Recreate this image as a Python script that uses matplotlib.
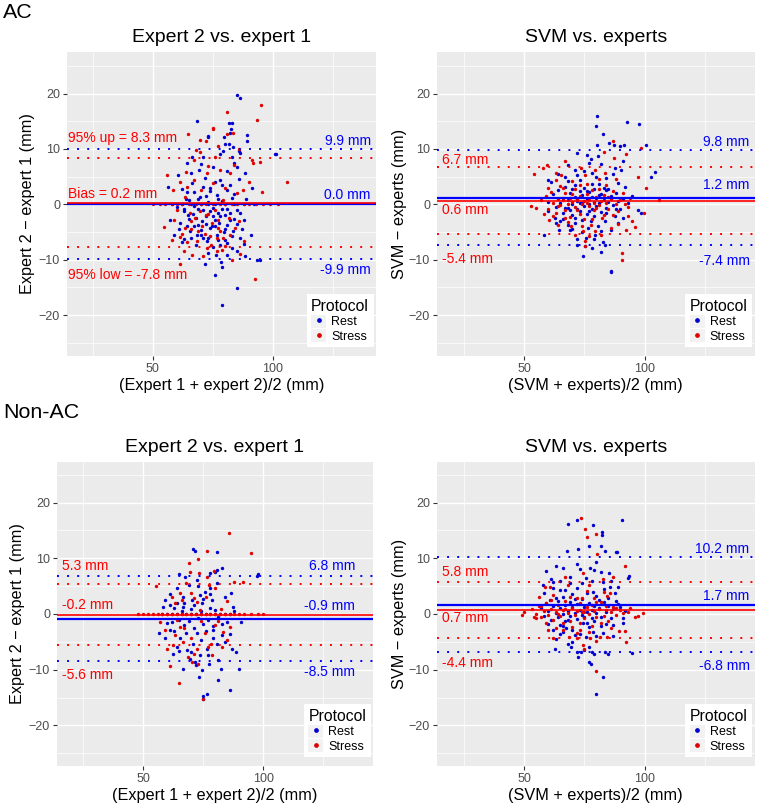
import numpy as np
import matplotlib
matplotlib.use("Agg")
import matplotlib.pyplot as plt
from matplotlib.lines import Line2D
from matplotlib.patches import Patch
from matplotlib.ticker import MultipleLocator

plt.rcParams['font.family'] = ['Liberation Sans', 'DejaVu Sans']

# ---- data (mm) ----
# AC, expert 2 vs expert 1
ac_exp_rest = [(85.1,19.8),(86.4,19.2),(68.6,15.1),(82.9,14.7),(81.9,14.6),(82.5,13.6),(82.3,12.8),(89.1,12.5),
    (73.0,12.1),(79.7,12.1),(89.1,11.4),(80.0,10.9),(81.9,10.9),(85.8,9.7),(101.0,9.0),(101.4,9.1),
    (56.5,3.2),(60.7,5.3),(64.2,7.4),(66.2,3.8),(69.4,6.2),(71.8,4.7),(75.3,6.8),(78.1,4.4),(79.2,9.7),
    (82.9,8.6),(83.6,10.4),(85.3,6.8),(88.5,5.6),(91.2,2.9),(82.2,3.5),(73.9,2.9),(69.7,1.4),(76.7,1.7),
    (86.4,9.2),(66.2,8.6),(73.2,12.3),(80.8,2.6),(64.2,2.3),(70.9,8.6),
    (57.2,-2.8),(59.0,-5.5),(62.9,-0.9),(64.8,-1.9),(66.9,-1.7),(69.0,-3.7),(71.1,-6.1),(71.9,-10.7),
    (75.8,-12.8),(78.9,-11.3),(78.5,-10.4),(85.3,-15.1),(78.9,-18.1),(91.1,-5.6),(87.9,-2.8),(86.4,-1.6),
    (82.2,-1.6),(80.8,-3.7),(76.4,-9.2),(80.8,-9.1),(88.6,-9.4),(93.3,-10.0),(94.7,-10.0),(78.0,-7.3),
    (72.5,-6.7),(65.5,-4.9),(61.4,-3.4),(73.9,-4.3),(76.6,-5.5),(80.1,-6.4),(82.9,-7.9),(85.0,-8.5),
    (70.4,-3.0),(75.3,-2.2),(78.7,-0.9),(83.6,-4.9),(86.4,-6.1),(68.3,-5.5),(64.1,-3.9),(73.2,-8.8),
    (60.0,-0.5),(63.0,-1.2),(65.0,0.8),(67.0,-0.3),(69.0,1.0),(71.0,-1.0),(73.0,0.4),(75.0,-0.6),
    (77.0,-1.5),(79.0,0.6),(81.0,-0.8),(83.0,1.2),(85.0,-1.1),(68.0,-2.5),(72.0,-2.2),(76.0,-2.8),
    (80.0,-2.0),(74.5,-4.0),(77.5,-3.4),(70.0,-4.6),(66.0,-6.0),(79.5,-5.0),(84.0,-2.6),(62.0,-6.8),
    (61,-4.5),(63,-6.2),(64,0.9),(65,-2.6),(67,-4.0),(67,2.2),(68,-7.4),(69,-0.8),(70,-5.6),(71,3.1),
    (72,-3.6),(72,1.5),(73,-6.0),(74,-1.3),(74,2.4),(75,-7.8),(76,-3.9),(77,0.9),(77,-6.5),(78,-2.2),
    (79,3.4),(80,-4.4),(81,-7.0),(82,-2.9),(83,-5.8),(84,1.8),(85,-3.5),(86,4.6),(87,-4.5),(88,-7.1),
    (89,1.0),(62,2.8),(66,5.6),(70,7.3),(76,4.0),(81,6.0),(84,7.5),(78,9.0),
    (58.0,0.0),(62.0,0.0),(66.0,0.0),(70.0,0.0),(73.0,0.0),(76.0,0.0),(80.0,0.0),(84.0,0.0),(88.0,0.0),(92.0,0.0)]
ac_exp_stress = [(95.1,18.0),(81.1,16.6),(93.6,15.2),(75.3,13.6),(64.6,12.7),(72.1,11.4),(81.1,12.7),(86.1,10.0),
    (105.8,4.0),(55.8,5.3),(61.4,4.1),(63.5,1.4),(67.0,8.0),(69.7,9.5),(72.5,5.6),(76.0,8.6),(78.1,6.2),
    (82.2,5.6),(85.0,2.0),(87.8,2.6),(95.4,2.3),(94.7,7.6),(69.7,11.6),(75.3,13.7),(58.6,2.6),(64.2,3.2),
    (79.4,0.8),(91.9,7.4),(83.6,12.8),(91.2,8.0),
    (54.8,-4.1),(59.0,-2.8),(61.4,-5.9),(62.3,-5.3),(66.5,-9.1),(61.5,-10.7),(92.6,-13.5),(82.9,-10.0),
    (86.4,-8.9),(72.5,-7.9),(76.6,-6.1),(70.4,-3.9),(74.6,-3.4),(78.0,-4.9),(67.6,-2.5),(65.5,-1.6),
    (69.7,-1.3),(81.9,-2.5),(84.3,-4.3),(80.1,-7.6),(74.3,-7.3),(68.3,-6.7),(64.1,-6.9),(76.6,-8.5),
    (63.5,-4.3),(71.8,-5.3),(79.4,-6.1),(73.0,-1.8),(77.0,-2.9),(66.0,-4.4),
    (58,-6.5),(60,-1.0),(63,-8.4),(64,5.8),(66,-3.0),(67,4.4),(69,-4.8),(70,2.6),(71,-9.4),(72,-2.0),
    (73,7.0),(74,-5.8),(75,3.9),(76,-1.0),(77,-4.2),(79,-8.2),(80,3.0),(82,-5.6),(84,7.1),(86,-3.1),
    (88,-6.6),(90,4.0),(68,9.8),(77,10.5),
    (50.0,0.0),(53.0,0.0),(55.0,0.0),(58.0,0.0),(60.0,0.0),(62.0,0.0),(65.0,0.0),(68.0,0.0),(70.0,0.0),
    (72.0,0.0),(75.0,0.0),(78.0,0.0),(80.0,0.0),(83.0,0.0),(85.0,0.0),(88.0,0.0),(90.0,0.0),(93.0,0.0),
    (96.0,0.0),(99.0,0.0),(102.0,0.0)]

# AC, SVM vs experts
ac_svm_rest = [(80.3,15.9),(79.7,14.1),(92.8,14.9),(97.6,14.5),(82.8,12.7),(80.3,10.7),(85.4,11.0),(87.2,10.7),
    (89.8,10.6),(91.4,10.7),(100.7,10.7),(71.8,9.3),(91.2,7.9),(102.9,4.9),(104.2,5.9),(76.8,7.5),(77.9,8.1),
    (80.7,8.7),(68.2,7.1),(71.0,6.2),(87.6,6.5),(90.4,6.2),(59.8,4.3),
    (58.3,-5.6),(64.4,-4.7),(71.7,-7.3),(75.1,-7.6),(74.4,-9.4),(82.8,-6.8),(81.8,-8.7),(86.2,-12.0),
    (86.2,-12.3),(83.7,-7.3),(79.3,-5.5),(76.5,-4.3),(89.0,-3.4),(97.4,-1.0),(98.7,-1.6),(87.6,-2.2),
    (68.2,-3.7),(62.6,-2.5),(59.8,-1.3),(71.0,-2.5),(77.9,-3.1),(80.7,-3.9),(83.5,-3.1),(75.8,-6.1),
    (60,0.5),(62,1.8),(63,-0.5),(64,2.5),(65,0.2),(66,1.2),(66,-1.5),(67,3.1),(68,0.8),(68,-0.6),(69,2.0),
    (70,0.1),(70,-2.0),(71,1.4),(71,3.5),(72,-0.8),(72,0.6),(73,2.4),(73,-1.2),(74,0.3),(74,1.6),(75,-0.3),
    (75,3.0),(76,0.9),(76,-1.8),(77,2.2),(77,0.0),(78,1.3),(78,-0.9),(79,0.5),(79,2.8),(80,-0.4),(80,1.1),
    (81,3.6),(81,0.2),(82,-1.4),(82,1.9),(83,0.7),(84,2.6),(84,-0.7),(85,0.4),(86,1.5),(87,-0.2),(88,2.1),
    (89,0.6),(90,-0.9),(91,1.0),(92,3.2),(93,0.3),(95,1.5),(67,5.0),(73,4.4),(78,5.6),(84,4.8),(70,-4.4),
    (74,-5.0),(79,-6.3),(65,-3.0),
    (61,4.0),(63,-3.4),(64,5.5),(66,-2.6),(67,-0.6),(68,4.2),(69,-1.0),(70,2.8),(71,-3.3),(72,5.3),
    (73,0.2),(74,-2.8),(75,6.0),(76,2.4),(77,-1.2),(78,3.7),(79,-2.2),(80,5.0),(81,1.6),(82,-4.9),
    (83,3.0),(84,-1.5),(85,2.8),(86,-4.6),(87,5.5),(88,-0.8),(89,3.9),(91,-2.4),(72,-6.2),(78,-7.9),
    (82,7.2),(76,8.9),(69,-4.6)]
ac_svm_stress = [(87.0,11.5),(98.5,10.2),(92.3,9.1),(83.0,9.4),(87.2,8.4),(66.8,7.9),(59.4,7.1),(57.8,6.6),
    (54.0,5.4),(63.3,5.7),(65.4,5.3),(97.4,4.9),(73.7,6.5),(79.3,6.2),(83.5,5.6),(75.1,5.3),
    (52.6,-0.4),(55.0,-0.7),(60.3,-2.8),(64.0,-3.8),(69.6,-3.9),(75.1,-6.7),(75.4,-7.6),(90.7,-8.8),
    (90.8,-10.0),(92.5,-4.6),(96.0,-4.1),(93.2,-2.2),(100.8,2.9),(99.9,-1.6),(79.3,-4.9),(71.0,-5.5),
    (77.9,-3.7),(66.8,-2.5),(82.1,-2.5),(86.2,-4.3),(74.4,-4.9),
    (57,0.8),(59,1.5),(60,-0.8),(61,2.3),(62,0.3),(63,-1.6),(64,1.0),(65,3.3),(65,-0.2),(66,0.7),(67,-1.0),
    (67,2.0),(68,0.1),(69,-2.3),(69,1.2),(70,0.5),(71,-0.5),(71,2.7),(72,0.9),(73,-1.7),(73,1.5),(74,0.0),
    (75,0.6),(75,-2.6),(76,1.8),(77,-0.4),(77,0.8),(78,2.5),(79,-1.1),(79,0.3),(80,1.4),(81,-0.2),(82,0.6),
    (83,-2.0),(83,1.7),(84,0.2),(85,-0.9),(86,0.9),(87,2.4),(88,0.1),(89,-1.3),(90,0.8),(92,0.0),(94,1.2),
    (106,0.8),(70,4.2),(76,3.6),(81,4.5),
    (58,-1.8),(60,3.0),(62,-2.2),(63,4.4),(64,-0.4),(66,2.9),(68,-3.2),(70,1.8),(72,-1.1),(73,3.5),
    (74,-3.9),(76,0.2),(78,-2.7),(80,-0.6),(81,2.8),(82,-5.6),(84,3.5),(85,1.4),(87,-1.9),(88,4.6),
    (89,-3.6),(91,2.1),(93,-0.5),(95,-3.0),(77,-5.8)]

# Non-AC, expert 2 vs expert 1
nac_exp_rest = [(70.8,11.7),(71.4,11.4),(80.6,11.1),(82.7,8.3),(80.8,7.9),(80.0,7.6),(64.9,7.2),(97.9,7.2),
    (97.4,6.8),(72.2,6.1),(67.4,6.7),(77.8,4.6),(80.8,5.5),(86.4,3.8),(61.1,3.6),(59.0,2.5),(63.9,1.9),
    (70.2,2.5),(75.7,4.0),(74.3,1.9),(78.5,2.5),(87.5,1.2),(58.3,1.2),(66.7,1.2),(66.7,3.1),(73.6,3.4),
    (77.8,7.3),
    (56.7,-3.5),(59.0,-4.4),(62.5,-7.1),(66.7,-9.9),(74.5,-10.1),(73.1,-11.3),(81.3,-11.9),(82.2,-9.9),
    (90.0,-9.8),(86.1,-13.6),(76.4,-14.4),(74.7,-14.7),(75.0,-15.3),(86.8,-6.3),(88.6,-6.9),(90.7,-1.5),
    (69.5,-8.1),(71.5,-8.6),(77.2,-8.9),(70.9,-5.3),(76.4,-6.2),(80.6,-5.3),(65.3,-4.4),(61.1,-2.9),
    (72.2,-3.5),(79.2,-2.9),(82.7,-3.8),(84.0,-5.0),(68.1,-6.5),(73.6,-7.4),(63.9,-5.9),
    (60,-1.6),(61,1.6),(63,-3.0),(64,4.6),(65,-6.6),(67,2.0),(68,-3.4),(69,5.2),(70,-6.9),(71,1.6),
    (72,-9.2),(73,5.0),(74,-4.6),(75,2.7),(76,-3.1),(77,-7.3),(78,3.6),(79,-4.4),(80,0.8),(81,-8.2),
    (83,-1.8),(84,3.0),(86,-3.6),(88,0.5),
    (58,0.0),(60,0.0),(62,0.0),(64,0.0),(66,0.0),(68,0.0),(70,0.0),(72,0.0),(74,0.0),(76,0.0),(78,0.0),
    (80,0.0),(82,0.0),(84,0.0),(86,0.0),(62,-1.5),(65,-1.0),(67,-2.0),(69,-1.2),(71,-2.5),(73,-0.8),
    (75,-1.8),(77,-1.1),(79,-2.2),(81,-0.6),(63,1.0),(66,0.6),(70,0.9),(74,0.5),(78,1.1),(85,-1.5)]
nac_exp_stress = [(85.6,14.6),(76.7,11.3),(94.9,11.0),(73.0,9.8),(69.2,9.1),(69.5,7.6),(79.5,7.7),(73.4,7.3),
    (76.7,6.7),(55.3,5.1),(91.7,5.7),(87.8,5.7),(84.7,2.3),(63.2,2.0),(66.3,2.5),(70.0,3.7),(72.2,2.2),
    (65.3,3.7),(77.5,5.2),(73.6,0.7),(82.4,0.9),
    (65.0,-12.4),(74.7,-15.3),(61.1,-9.3),(71.1,-7.1),(59.0,-2.9),(63.2,-3.8),(66.7,-5.0),(62.5,-5.6),
    (78.2,-5.3),(84.7,-4.7),(83.3,-3.2),(75.7,-3.5),(72.2,-6.2),(68.8,-7.7),(70.4,-8.6),(78.8,-7.4),
    (65.3,-2.3),(79.9,-2.0),
    (57,-1.5),(60,-6.2),(62,3.0),(64,-1.0),(67,-2.6),(68,5.6),(70,-4.4),(71,2.8),(73,-9.0),(74,-1.2),
    (76,3.0),(77,-5.9),(80,4.6),(81,-1.3),(83,-6.0),(86,-2.4),
    (48,0.0),(50,0.0),(52,0.0),(54,0.0),(56,0.0),(58,0.0),(60,0.0),(62,0.0),(64,0.0),(66,0.0),(68,0.0),
    (70,0.0),(72,0.0),(74,0.0),(76,0.0),(78,0.0),(80,0.0),(82,0.0),(84,0.0),(86,0.0),(88,0.0),(90,0.0),
    (92,0.0),(95,0.0),(98,0.0),(100,0.0)]

# Non-AC, SVM vs experts
nac_svm_rest = [(68.2,16.1),(71.7,16.8),(78.6,15.9),(90.8,16.9),(82.1,14.8),(82.3,14.1),(76.9,12.2),(72.2,11.6),
    (67.8,11.3),(81.9,12.2),(83.5,11.3),(88.0,11.2),(88.6,11.1),(93.6,6.8),(93.2,6.5),(58.9,7.7),(63.3,8.6),
    (66.1,8.2),(73.0,8.0),(77.2,8.3),(78.9,7.9),(81.7,7.6),(85.4,7.4),(61.2,6.3),(61.9,5.7),(57.8,5.2),
    (68.9,6.7),(75.8,6.4),(82.8,5.8),(85.5,4.9),(89.0,4.9),(64.7,4.3),(71.7,4.6),(78.6,4.0),(63.3,2.8),
    (60.5,2.5),(87.6,3.7),
    (62.6,-6.2),(64.7,-3.6),(66.1,-3.2),(68.2,-5.3),(69.2,-6.0),(71.7,-6.8),(72.3,-7.7),(73.7,-6.8),
    (76.9,-8.7),(77.8,-9.0),(80.0,-14.4),(82.8,-11.3),(76.9,-5.9),(78.3,-6.8),(83.5,-6.8),(84.8,-7.1),
    (94.6,-7.0),(80.0,-3.9),(82.8,-3.5),(75.8,-4.1),(71.0,-3.8),(67.5,-2.6),(61.9,-2.9),(86.9,-2.0),
    (91.1,-0.8),(78.6,-3.2),(74.4,-1.7),(64.7,-2.0),
    (57,1.0),(58,-0.3),(59,2.0),(60,0.5),(61,-1.0),(62,1.5),(63,0.2),(64,2.4),(64,-0.6),(65,1.1),(66,0.0),
    (66,3.0),(67,1.6),(67,-1.3),(68,0.6),(69,2.2),(69,-0.4),(70,1.2),(70,3.6),(71,0.1),(72,1.8),(72,-0.9),
    (73,0.7),(74,2.7),(74,-0.2),(75,1.3),(76,0.3),(76,-1.6),(77,2.0),(78,0.8),(78,-0.7),(79,1.5),(80,0.1),
    (80,3.2),(81,1.0),(82,-0.5),(83,2.1),(84,0.4),(85,1.4),(86,-0.8),(87,0.9),(88,2.4),(90,1.2),(92,0.6),
    (58,3.8),(60,-1.8),(62,4.6),(63,-4.5),(65,6.0),(66,-2.2),(67,4.4),(68,-1.0),(69,5.6),(70,-2.8),
    (71,2.7),(72,9.0),(73,-3.6),(74,5.5),(75,-0.5),(76,3.8),(77,-2.4),(78,6.0),(79,-1.2),(80,9.4),
    (81,2.6),(82,-2.1),(83,4.5),(84,-1.8),(85,2.8),(86,5.9),(87,-4.0),(89,1.8),(91,-1.6),(70,-5.0),
    (75,-6.5),(79,-7.2)]
nac_svm_stress = [(73.5,17.3),(75.1,15.3),(76.2,13.9),(79.7,14.3),(80.3,10.7),(91.9,8.6),(86.7,6.6),(82.8,6.3),
    (74.2,7.3),(66.8,6.7),(58.5,4.9),(60.8,4.9),(68.3,5.2),(76.8,5.2),(84.4,3.3),(56.1,3.1),(61.9,3.4),
    (71.7,2.8),(80.0,2.2),(85.5,3.7),
    (79.7,-10.2),(89.4,-3.0),(92.5,-5.1),(74.4,-5.6),(77.2,-4.4),(71.7,-4.4),(68.6,-4.1),(61.9,-4.4),
    (59.8,-2.9),(81.4,-4.1),(84.2,-4.2),(74.7,-6.2),(73.0,-2.9),(49.1,-0.2),(55.0,-0.8),(97.3,-0.4),
    (99.2,0.1),(93.3,0.4),(66.1,-1.7),
    (50,0.3),(53,0.9),(55,0.0),(56,1.4),(57,-0.5),(58,0.6),(59,1.9),(60,-0.2),(61,0.9),(62,-1.1),(63,0.4),
    (64,1.7),(65,-0.4),(66,0.8),(67,2.3),(68,0.2),(69,-1.2),(70,1.0),(71,-0.1),(72,0.6),(73,1.9),(73,-1.6),
    (74,0.3),(75,-0.7),(76,1.2),(77,0.0),(78,-2.2),(78,1.6),(79,0.5),(80,-0.6),(81,0.9),(82,2.1),(83,-0.3),
    (84,0.7),(85,-1.2),(86,0.4),(87,1.3),(88,-0.1),(90,0.7),(94,1.0),(96,-0.6),
    (54,-0.5),(57,1.5),(59,-1.6),(61,2.5),(63,-2.5),(64,0.0),(66,-2.9),(67,0.9),(69,3.1),(70,-2.4),
    (72,-3.4),(74,2.8),(75,0.4),(77,-3.2),(79,2.8),(80,-4.8),(82,-1.6),(84,1.5),(86,-2.6),(88,1.1),
    (91,0.1),(92,-3.0),(76,4.2),(83,4.0)]

# bias, upper and lower limits of agreement: (bias, up, low)
rest_stats = [(0.0, 9.9, -9.9), (1.2, 9.8, -7.4), (-0.9, 6.8, -8.5), (1.7, 10.2, -6.8)]
stress_stats = [(0.2, 8.3, -7.8), (0.6, 6.7, -5.4), (-0.2, 5.3, -5.6), (0.7, 5.8, -4.4)]

titles = ['Expert 2 vs. expert 1', 'SVM vs. experts', 'Expert 2 vs. expert 1', 'SVM vs. experts']
ylabels = ['Expert 2 \u2212 expert 1 (mm)', 'SVM \u2212 experts (mm)', 'Expert 2 \u2212 expert 1 (mm)', 'SVM \u2212 experts (mm)']
xlabels = ['(Expert 1 + expert 2)/2 (mm)', '(SVM + experts)/2 (mm)', '(Expert 1 + expert 2)/2 (mm)', '(SVM + experts)/2 (mm)']
rest_pts = [ac_exp_rest, ac_svm_rest, nac_exp_rest, nac_svm_rest]
stress_pts = [ac_exp_stress, ac_svm_stress, nac_exp_stress, nac_svm_stress]

# ---- layout (pixels of a 757x808 canvas) ----
W, H = 757, 808
boxes = [(67, 376, 52, 356), (437, 754.5, 52, 356), (57, 373, 462, 766), (437, 754.5, 462, 766)]
xlims = [(14.3, 143), (13.6, 145.8), (14.1, 145.7), (13.6, 145.8)]
ylims = [(-27.4, 27.5), (-27.4, 27.5), (-27.3, 27.3), (-27.3, 27.3)]
ylab_x = [26, 398, 16, 398]
red_lab_x = [14.8, 15.5, 16.0, 15.5]
blue_lab_x = [140.8, 143.75, 138.2, 143.75]
red_lab_y = [(12.0, 1.93, -12.7), (8.05, -0.95, -9.96), (8.67, 1.62, -10.95), (7.6, -0.78, -8.86)]
blue_lab_y = [(11.35, 1.75, -11.9), (11.17, 3.42, -10.27), (8.67, 1.5, -10.5), (11.67, 3.23, -9.28)]

BLUE = '#0000FF'
RED = '#FF0000'
BG = '#EBEBEB'

fig = plt.figure(figsize=(W / 100, H / 100), dpi=100)

for i in range(4):
    l, r, t, b = boxes[i]
    ax = fig.add_axes([l / W, 1 - b / H, (r - l) / W, (b - t) / H])
    ax.set_facecolor(BG)
    for s in ax.spines.values():
        s.set_visible(False)
    ax.set_xlim(*xlims[i])
    ax.set_ylim(*ylims[i])
    ax.xaxis.set_major_locator(MultipleLocator(50))
    ax.xaxis.set_minor_locator(MultipleLocator(25))
    ax.yaxis.set_major_locator(MultipleLocator(10))
    ax.yaxis.set_minor_locator(MultipleLocator(5))
    ax.grid(which='major', color='white', linewidth=1.0)
    ax.grid(which='minor', color='white', linewidth=0.5)
    ax.set_axisbelow(True)
    ax.tick_params(which='major', labelsize=9, labelcolor='#4D4D4D', color='#333333',
                   length=3, width=0.8, pad=2)
    ax.tick_params(which='minor', length=0)

    rp = np.array(rest_pts[i])
    sp = np.array(stress_pts[i])
    ax.scatter(rp[:, 0], rp[:, 1], s=6, color='#0000D0', linewidths=0, zorder=2)
    ax.scatter(sp[:, 0], sp[:, 1], s=6, color='#E00000', linewidths=0, zorder=2)

    rb, ru, rl = rest_stats[i]
    sb, su, sl = stress_stats[i]
    ax.axhline(rb, color=BLUE, linewidth=1.6, zorder=3)
    ax.axhline(sb, color=RED, linewidth=1.2, zorder=3)
    for v in (ru, rl):
        ax.axhline(v, color=BLUE, linewidth=1.4, linestyle=(0, (1, 4.2)), zorder=3)
    for v in (su, sl):
        ax.axhline(v, color=RED, linewidth=1.4, linestyle=(0, (1, 4.2)), zorder=3)

    if i == 0:
        red_txt = [f'95% up = {su:.1f} mm', f'Bias = {sb:.1f} mm', f'95% low = {sl:.1f} mm']
    else:
        red_txt = [f'{su:.1f} mm', f'{sb:.1f} mm', f'{sl:.1f} mm']
    blue_txt = [f'{ru:.1f} mm', f'{rb:.1f} mm', f'{rl:.1f} mm']
    for txt, yy in zip(red_txt, red_lab_y[i]):
        ax.text(red_lab_x[i], yy, txt, color=RED, fontsize=10, ha='left', va='center', zorder=4)
    for txt, yy in zip(blue_txt, blue_lab_y[i]):
        ax.text(blue_lab_x[i], yy, txt, color=BLUE, fontsize=10, ha='right', va='center', zorder=4)

    ax.set_title(titles[i], fontsize=14, pad=7)
    ax.set_xlabel(xlabels[i], fontsize=11.7)
    ax.xaxis.set_label_coords(0.5, -22 / (b - t))
    ax.set_ylabel(ylabels[i], fontsize=11.7)
    ax.yaxis.set_label_coords((ylab_x[i] + 9 - l) / (r - l), 0.5)

    key = Patch(facecolor='#F2F2F2', edgecolor='none')
    handles = [(key, Line2D([], [], linestyle='none', marker='o', markersize=2.4, color='#0000D0')),
               (key, Line2D([], [], linestyle='none', marker='o', markersize=2.4, color='#E00000'))]
    leg = ax.legend(handles, ['Rest', 'Stress'], title='Protocol', loc='lower right',
                    bbox_to_anchor=(1.0, 0.02), fontsize=9, title_fontsize=11.3,
                    frameon=True, fancybox=False, borderpad=0.35, labelspacing=0.08,
                    handlelength=1.2, handleheight=1.2, handletextpad=0.4, borderaxespad=0.2)
    leg.get_frame().set_facecolor('white')
    leg.get_frame().set_edgecolor('none')
    leg.get_frame().set_alpha(1)
    leg._legend_box.align = 'left'

fig.text(3 / W, 1 - 12 / H, 'AC', fontsize=15.4, ha='left', va='center')
fig.text(3 / W, 1 - 412 / H, 'Non-AC', fontsize=15.4, ha='left', va='center')

fig.savefig('out.png', dpi=100)
